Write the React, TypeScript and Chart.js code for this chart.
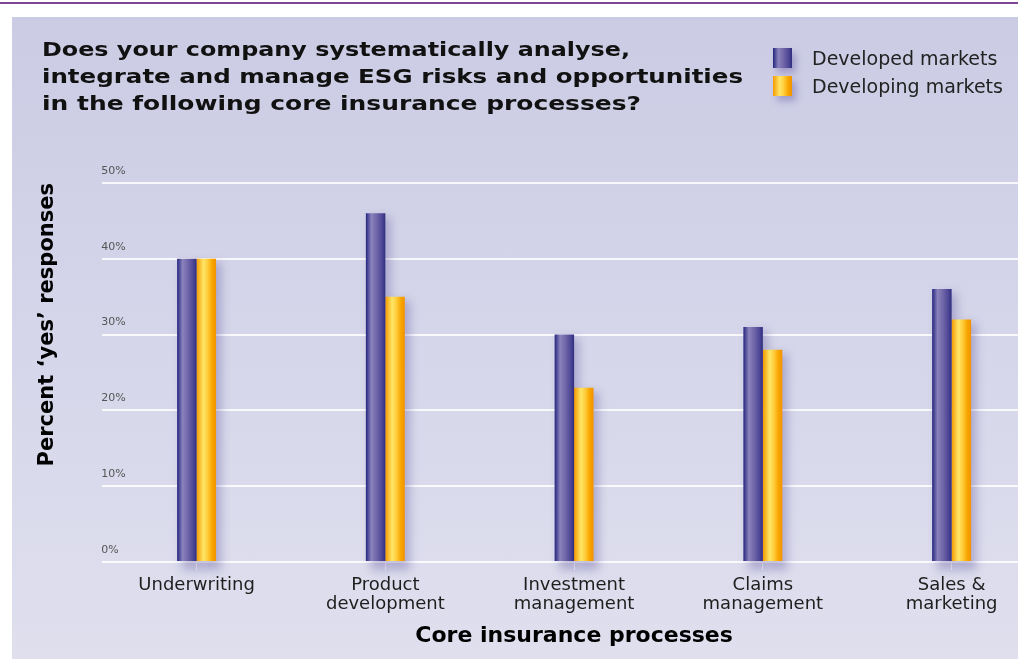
import React, { useEffect, useLayoutEffect, useRef } from "react";
import { Chart, registerables } from "chart.js";

Chart.register(...registerables);

// ---- data ----
const categories: string[][] = [
  ["Underwriting"],
  ["Product", "development"],
  ["Investment", "management"],
  ["Claims", "management"],
  ["Sales &", "marketing"],
];
const seriesNames = ["Developed markets", "Developing markets"];
const developedValues = [40, 46, 30, 31, 36];
const developingValues = [40, 35, 23, 28, 32];
const yTickValues = [0, 10, 20, 30, 40, 50];
const titleLines = [
  "Does your company systematically analyse,",
  "integrate and manage ESG risks and opportunities",
  "in the following core insurance processes?",
];
const xAxisTitle = "Core insurance processes";
const yAxisTitle = "Percent \u2018yes\u2019 responses";

// ---- styles ----
const titleLineWidths = [588, 701, 599];
const developedStops: [number, string][] = [
  [0, "#24247e"],
  [0.28, "#8a83bd"],
  [0.55, "#7066a8"],
  [0.85, "#4a4494"],
  [1, "#302d7e"],
];
const developingStops: [number, string][] = [
  [0, "#f49a00"],
  [0.35, "#ffe566"],
  [0.55, "#ffd040"],
  [0.8, "#f8a600"],
  [1, "#f29200"],
];
const cssGrad = (stops: [number, string][]) =>
  `linear-gradient(to right, ${stops.map(([o, c]) => `${c} ${o * 100}%`).join(", ")})`;

const FONT = "'DejaVu Sans', 'Liberation Sans', sans-serif";
const CAT_PCT = 0.2063;

export default function App() {
  const ref = useRef<HTMLCanvasElement>(null);
  const lineRefs = useRef<(HTMLDivElement | null)[]>([]);

  useLayoutEffect(() => {
    lineRefs.current.forEach((el, i) => {
      if (!el) return;
      el.style.transform = "none";
      const w = el.getBoundingClientRect().width;
      if (w > 0) el.style.transform = `scaleX(${titleLineWidths[i] / w})`;
    });
  }, []);

  useEffect(() => {
    const canvas = ref.current;
    if (!canvas) return;

    const barFill = (stops: [number, string][], side: number) => (c: any) => {
      const chart = c.chart;
      const x = chart.scales && chart.scales.x;
      if (!x || c.dataIndex == null) return stops[1][1];
      const center = x.getPixelForValue(c.dataIndex);
      const catW = (x.right - x.left) / categories.length;
      const w = (catW * CAT_PCT) / 2;
      const left = side === 0 ? center - w : center;
      if (!isFinite(left) || !isFinite(w) || w <= 0) return stops[1][1];
      const g = chart.ctx.createLinearGradient(left, 0, left + w, 0);
      stops.forEach(([o, col]) => g.addColorStop(o, col));
      return g;
    };

    const shadowPlugin = {
      id: "barShadow",
      beforeDatasetsDraw(chart: any) {
        const ctx = chart.ctx;
        ctx.save();
        ctx.filter = "blur(5px)";
        ctx.fillStyle = "rgba(70,55,140,0.30)";
        chart.getSortedVisibleDatasetMetas().forEach((meta: any) => {
          meta.data.forEach((el: any) => {
            const { x, y, width, base } = el.getProps(["x", "y", "width", "base"], true);
            ctx.fillRect(x - width / 2 + 5, y + 4, width, base - y + 5);
          });
        });
        ctx.restore();
      },
    };

    const chart = new Chart(canvas, {
      type: "bar",
      data: {
        labels: categories,
        datasets: [
          {
            label: seriesNames[0],
            data: developedValues,
            backgroundColor: barFill(developedStops, 0),
            borderWidth: 0,
            barPercentage: 1,
            categoryPercentage: CAT_PCT,
          },
          {
            label: seriesNames[1],
            data: developingValues,
            backgroundColor: barFill(developingStops, 1),
            borderWidth: 0,
            barPercentage: 1,
            categoryPercentage: CAT_PCT,
          },
        ],
      },
      options: {
        responsive: false,
        animation: false,
        devicePixelRatio: 1,
        layout: { padding: { left: 12, right: 4, top: 183, bottom: 6 } },
        plugins: {
          legend: { display: false },
          title: { display: false },
          tooltip: { enabled: false },
        },
        scales: {
          x: {
            grid: {
              drawOnChartArea: false,
              offset: false,
              drawTicks: true,
              tickLength: 8,
              color: "rgba(255,255,255,0.85)",
              lineWidth: 1,
            },
            border: { display: false },
            ticks: {
              font: { family: FONT, size: 18, lineHeight: 1.1 },
              color: "#1e1e1e",
              padding: 5,
              maxRotation: 0,
              autoSkip: false,
            },
            title: {
              display: true,
              text: xAxisTitle,
              font: { family: FONT, size: 22, weight: "bold" },
              color: "#000",
              padding: { top: 3, bottom: 4 },
            },
          },
          y: {
            min: 0,
            max: 50,
            afterBuildTicks: (scale: any) => {
              scale.ticks = yTickValues.map((v) => ({ value: v }));
            },
            ticks: {
              callback: (v: any) => `${v}%`,
              mirror: true,
              padding: -1,
              labelOffset: -12,
              font: { family: FONT, size: 11 },
              color: "#555",
            },
            grid: { color: "rgba(255,255,255,0.85)", lineWidth: 2, drawTicks: false },
            border: { display: false },
            title: {
              display: true,
              text: yAxisTitle,
              align: "end",
              font: { family: FONT, size: 21, weight: "bold" },
              color: "#000",
              padding: { top: 23, bottom: 44 },
            },
          },
        },
      },
      plugins: [shadowPlugin],
    } as any);

    return () => chart.destroy();
  }, []);

  const legendStops = [developedStops, developingStops];

  return (
    <div
      style={{
        position: "fixed",
        left: 0,
        top: 0,
        width: 1018,
        height: 659,
        overflow: "hidden",
        background: "#ffffff",
      }}
    >
      <div style={{ position: "absolute", left: 0, right: 0, top: 2, height: 2, background: "#7b4795" }} />
      <div
        style={{
          position: "absolute",
          left: 12,
          top: 17,
          width: 1010,
          height: 642,
          background: "linear-gradient(to bottom, #cbcce4 0%, #d4d5e9 45%, #dfdfee 100%)",
        }}
      />
      <canvas
        ref={ref}
        width={1050}
        height={659}
        style={{ position: "absolute", left: 0, top: 0, width: 1050, height: 659 }}
      />
      <div
        style={{
          position: "absolute",
          left: 42,
          top: 36,
          fontFamily: FONT,
          fontWeight: "bold",
          fontSize: 19,
          lineHeight: "27px",
          color: "#111",
        }}
      >
        {titleLines.map((t, i) => (
          <div
            key={t}
            ref={(el) => {
              lineRefs.current[i] = el;
            }}
            style={{ display: "table", whiteSpace: "nowrap", transformOrigin: "left top" }}
          >
            {t}
          </div>
        ))}
      </div>
      <div style={{ position: "absolute", left: 773, top: 48 }}>
        {seriesNames.map((name, i) => (
          <div key={name} style={{ display: "flex", alignItems: "center", height: 20, marginBottom: 8 }}>
            <div
              style={{
                width: 19,
                height: 20,
                background: cssGrad(legendStops[i]),
                boxShadow: "4px 5px 7px rgba(80,60,150,0.35)",
              }}
            />
            <div
              style={{
                marginLeft: 20,
                fontFamily: FONT,
                fontSize: 19,
                color: "#222",
                whiteSpace: "nowrap",
              }}
            >
              {name}
            </div>
          </div>
        ))}
      </div>
    </div>
  );
}
